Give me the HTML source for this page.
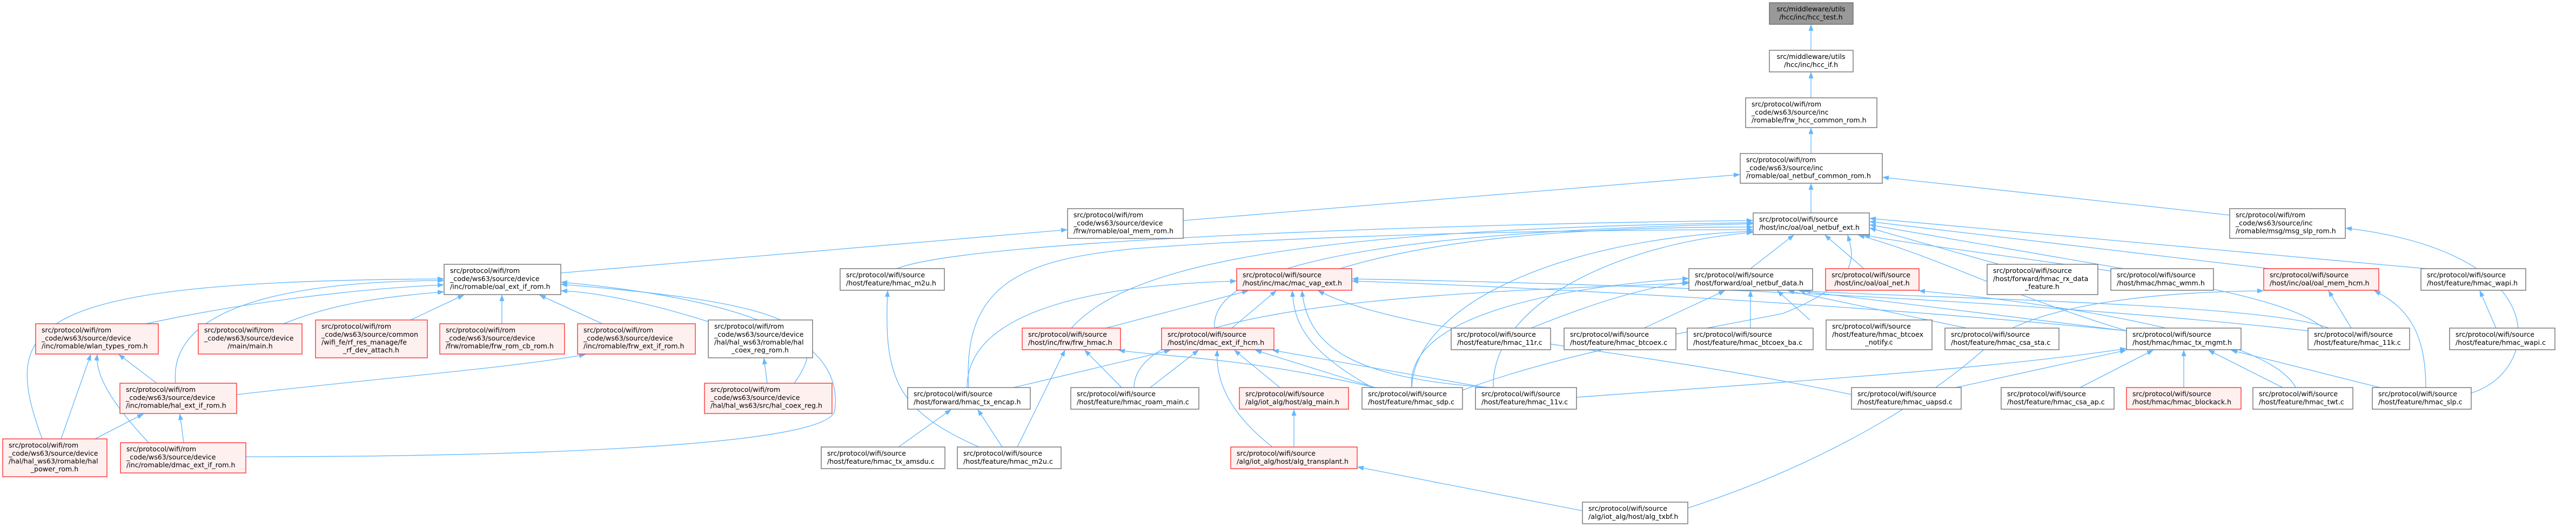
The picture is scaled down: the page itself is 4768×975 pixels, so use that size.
<!DOCTYPE html>
<html><head><meta charset="utf-8"><style>
html,body{margin:0;padding:0;background:#fff;}
svg{display:block}
text{font-family:"DejaVu Sans","Liberation Sans",sans-serif;font-size:12.6px;fill:#000}
.e{fill:none;stroke:#63b8ff;stroke-width:1.3}
.g{fill:#fff;stroke:#666;stroke-width:1.3}
.r{fill:#fff0f0;stroke:#f22;stroke-width:1.3}
.d{fill:#999;stroke:#666;stroke-width:1.3}
</style></head><body>
<svg width="4768" height="975" viewBox="0 0 4768 975" xmlns="http://www.w3.org/2000/svg">
<defs><marker id="a" markerWidth="12" markerHeight="10" refX="11" refY="4.5" orient="auto" markerUnits="userSpaceOnUse"><path d="M0,0 L12,4.5 L0,9 z" fill="#63b8ff"/></marker></defs>
<g class="e" marker-end="url(#a)">
<path d="M3352,93 L3352,46"/>
<path d="M3352,181 L3352,134"/>
<path d="M3352,284 L3352,237"/>
<path d="M3352,394 L3352,340"/>
<path d="M2190,408 L3220,323"/>
<path d="M4127,398 L3485,328"/>
<path d="M1038,505 L1975,425"/>
<path d="M4574,727 C4700,690 4740,470 4342,422"/>
<!-- into F left -->
<path d="M1660,497 C1800,440 2800,412 3244,408"/>
<path d="M1983,607 C2080,500 2350,425 3244,412"/>
<path d="M2248,607 C2240,500 2500,430 3244,414"/>
<path d="M2480,497 C2700,430 3000,420 3244,420"/>
<path d="M1793,717 C1780,520 1900,480 2100,460 C2500,430 3000,425 3244,425"/>
<path d="M2613,717 C2620,560 2900,440 3244,428"/>
<path d="M2764,717 C2760,560 3000,450 3244,430"/>
<path d="M3240,497 L3320,435"/>
<path d="M3450,497 L3378,435"/>
<path d="M3700,489 L3461,422"/>
<path d="M3930,497 L3461,416"/>
<path d="M4200,497 L3461,410"/>
<path d="M4490,497 L3461,404"/>
<path d="M3936,612 C3700,540 3600,480 3440,435"/>
<path d="M4300,607 C4200,520 3700,480 3450,435"/>
<path d="M2707,722 C2900,650 3150,610 3300,580 C3450,520 3430,470 3420,435"/>
<!-- into H -->
<path d="M270,599 C450,560 650,535 821,527"/>
<path d="M525,599 C620,560 720,548 821,540"/>
<path d="M760,592 L858,546"/>
<path d="M929,599 L929,546"/>
<path d="M1115,599 L999,546"/>
<path d="M1311,595 C1200,560 1100,540 1039,538"/>
<path d="M325,709 C310,560 560,520 821,519"/>
<path d="M78,812 C0,600 40,520 821,516"/>
<path d="M455,845 C900,845 1530,830 1545,760 C1560,650 1450,560 1039,522"/>
<path d="M1470,709 C1550,600 1450,560 1039,526"/>
<!-- into Q / AG -->
<path d="M290,709 L220,656"/>
<path d="M113,812 L168,656"/>
<path d="M275,819 C220,760 175,700 180,656"/>
<path d="M176,812 L265,766"/>
<path d="M340,819 L333,766"/>
<path d="M438,730 C700,700 950,680 1083,656"/>
<path d="M1420,709 L1414,663"/>
<path d="M1812,827 C1660,760 1635,700 1643,538"/>
<!-- into J -->
<path d="M2047,607 L2310,538"/>
<path d="M2280,607 L2362,538"/>
<path d="M1790,717 C1790,600 1950,530 2288,520"/>
<path d="M2540,717 C2420,650 2395,600 2392,538"/>
<path d="M2760,717 C2500,700 2420,640 2410,538"/>
<path d="M3427,730 C3000,640 2600,620 2440,538"/>
<path d="M3936,612 C3400,560 2800,530 2503,520"/>
<path d="M4272,612 C3700,550 3000,525 2503,516"/>
<!-- into W -->
<path d="M1883,827 L1971,648"/>
<path d="M2076,717 L2008,648"/>
<path d="M2545,717 C2300,660 2150,660 2071,648"/>
<!-- into X -->
<path d="M1876,717 L2166,648"/>
<path d="M2129,717 L2218,648"/>
<path d="M2355,827 C2270,760 2250,700 2253,648"/>
<path d="M2369,717 L2285,648"/>
<path d="M2545,717 L2324,648"/>
<path d="M2750,717 L2356,648"/>
<path d="M2395,827 L2395,758"/>
<path d="M2929,945 L2513,864"/>
<path d="M1663,827 L1760,758"/>
<path d="M1855,827 L1810,758"/>
<!-- into K -->
<path d="M2834,607 C2950,560 3050,530 3126,522"/>
<path d="M3043,607 L3192,538"/>
<path d="M3240,607 L3240,538"/>
<path d="M3350,592 L3290,538"/>
<path d="M3640,607 L3310,538"/>
<path d="M3935,612 L3330,538"/>
<path d="M4310,607 C4200,560 3500,550 3340,538"/>
<path d="M2613,717 C2600,580 2900,530 3125,515"/>
<path d="M2099,717 C2100,560 2700,540 3125,524"/>
<!-- into AD -->
<path d="M3620,717 L3935,648"/>
<path d="M2918,735 C3400,700 3700,680 3935,645"/>
<path d="M3850,717 L3985,648"/>
<path d="M4042,717 L4042,648"/>
<path d="M4225,717 L4088,648"/>
<path d="M4405,717 L4130,648"/>
<!-- others -->
<path d="M4352,607 L4310,538"/>
<path d="M4490,717 C4490,620 4460,570 4395,538"/>
<path d="M3124,940 C3400,850 3600,720 3700,620 C3800,560 4000,540 4189,538"/>
<path d="M4249,717 C4200,620 3800,560 3552,538"/>
<path d="M4620,607 L4590,538"/>
</g>
<g>
<rect class="d" x="3275" y="5" width="155" height="40"/>
<text x="3352" y="21" text-anchor="middle">src/middleware/utils</text><text x="3352" y="36" text-anchor="middle">/hcc/inc/hcc_test.h</text>
<rect class="g" x="3275" y="93" width="155" height="40"/>
<text x="3352" y="109" text-anchor="middle">src/middleware/utils</text><text x="3352" y="124" text-anchor="middle">/hcc/inc/hcc_if.h</text>
<rect class="g" x="3231" y="181" width="243" height="55"/>
<text x="3242" y="197">src/protocol/wifi/rom</text><text x="3242" y="212">_code/ws63/source/inc</text><text x="3242" y="226.5">/romable/frw_hcc_common_rom.h</text>
<rect class="g" x="3221" y="284" width="263" height="55"/>
<text x="3232" y="300">src/protocol/wifi/rom</text><text x="3232" y="315">_code/ws63/source/inc</text><text x="3232" y="329.5">/romable/oal_netbuf_common_rom.h</text>
<rect class="g" x="1976" y="386" width="214" height="55"/>
<text x="1987" y="402">src/protocol/wifi/rom</text><text x="1987" y="417">_code/ws63/source/device</text><text x="1987" y="431.5">/frw/romable/oal_mem_rom.h</text>
<rect class="g" x="3245" y="394" width="215" height="40"/>
<text x="3256" y="410">src/protocol/wifi/source</text><text x="3256" y="425">/host/inc/oal/oal_netbuf_ext.h</text>
<rect class="g" x="4127" y="386" width="214" height="55"/>
<text x="4138" y="402">src/protocol/wifi/rom</text><text x="4138" y="417">_code/ws63/source/inc</text><text x="4138" y="431.5">/romable/msg/msg_slp_rom.h</text>
<rect class="g" x="822" y="489" width="216" height="56"/>
<text x="833" y="505">src/protocol/wifi/rom</text><text x="833" y="520">_code/ws63/source/device</text><text x="833" y="534.5">/inc/romable/oal_ext_if_rom.h</text>
<rect class="g" x="1555" y="497" width="193" height="40"/>
<text x="1566" y="513">src/protocol/wifi/source</text><text x="1566" y="528">/host/feature/hmac_m2u.h</text>
<rect class="r" x="2289" y="497" width="213" height="40"/>
<text x="2300" y="513">src/protocol/wifi/source</text><text x="2300" y="528">/host/inc/mac/mac_vap_ext.h</text>
<rect class="g" x="3126" y="497" width="229" height="40"/>
<text x="3137" y="513">src/protocol/wifi/source</text><text x="3137" y="528">/host/forward/oal_netbuf_data.h</text>
<rect class="r" x="3379" y="497" width="173" height="40"/>
<text x="3390" y="513">src/protocol/wifi/source</text><text x="3465" y="528" text-anchor="middle">/host/inc/oal/oal_net.h</text>
<rect class="g" x="3678" y="489" width="205" height="56"/>
<text x="3689" y="505">src/protocol/wifi/source</text><text x="3689" y="520">/host/forward/hmac_rx_data</text><text x="3780" y="534.5" text-anchor="middle">_feature.h</text>
<rect class="g" x="3907" y="497" width="190" height="40"/>
<text x="3918" y="513">src/protocol/wifi/source</text><text x="3918" y="528">/host/hmac/hmac_wmm.h</text>
<rect class="r" x="4190" y="497" width="213" height="40"/>
<text x="4201" y="513">src/protocol/wifi/source</text><text x="4201" y="528">/host/inc/oal/oal_mem_hcm.h</text>
<rect class="g" x="4481" y="497" width="194" height="40"/>
<text x="4492" y="513">src/protocol/wifi/source</text><text x="4492" y="528">/host/feature/hmac_wapi.h</text>

<rect class="r" x="66" y="599" width="227" height="56"/>
<text x="77" y="615">src/protocol/wifi/rom</text><text x="77" y="630">_code/ws63/source/device</text><text x="77" y="644.5">/inc/romable/wlan_types_rom.h</text>
<rect class="r" x="367" y="599" width="192" height="56"/>
<text x="378" y="615">src/protocol/wifi/rom</text><text x="378" y="630">_code/ws63/source/device</text><text x="463" y="644.5" text-anchor="middle">/main/main.h</text>
<rect class="r" x="584" y="592" width="207" height="70"/>
<text x="595" y="608">src/protocol/wifi/rom</text><text x="595" y="623">_code/ws63/source/common</text><text x="595" y="637.5">/wifi_fe/rf_res_manage/fe</text><text x="687" y="652" text-anchor="middle">_rf_dev_attach.h</text>
<rect class="r" x="814" y="599" width="231" height="56"/>
<text x="825" y="615">src/protocol/wifi/rom</text><text x="825" y="630">_code/ws63/source/device</text><text x="825" y="644.5">/frw/romable/frw_rom_cb_rom.h</text>
<rect class="r" x="1069" y="599" width="218" height="56"/>
<text x="1080" y="615">src/protocol/wifi/rom</text><text x="1080" y="630">_code/ws63/source/device</text><text x="1080" y="644.5">/inc/romable/frw_ext_if_rom.h</text>
<rect class="g" x="1311" y="592" width="193" height="70"/>
<text x="1322" y="608">src/protocol/wifi/rom</text><text x="1322" y="623">_code/ws63/source/device</text><text x="1322" y="637.5">/hal/hal_ws63/romable/hal</text><text x="1407" y="652" text-anchor="middle">_coex_reg_rom.h</text>
<rect class="r" x="1892" y="607" width="182" height="40"/>
<text x="1903" y="623">src/protocol/wifi/source</text><text x="1903" y="638">/host/inc/frw/frw_hmac.h</text>
<rect class="r" x="2150" y="607" width="208" height="40"/>
<text x="2161" y="623">src/protocol/wifi/source</text><text x="2161" y="638">/host/inc/dmac_ext_if_hcm.h</text>
<rect class="g" x="2686" y="607" width="184" height="40"/>
<text x="2697" y="623">src/protocol/wifi/source</text><text x="2697" y="638">/host/feature/hmac_11r.c</text>
<rect class="g" x="2895" y="607" width="207" height="40"/>
<text x="2906" y="623">src/protocol/wifi/source</text><text x="2906" y="638">/host/feature/hmac_btcoex.c</text>
<rect class="g" x="3123" y="607" width="233" height="40"/>
<text x="3134" y="623">src/protocol/wifi/source</text><text x="3134" y="638">/host/feature/hmac_btcoex_ba.c</text>
<rect class="g" x="3380" y="592" width="196" height="55"/>
<text x="3391" y="608">src/protocol/wifi/source</text><text x="3391" y="623">/host/feature/hmac_btcoex</text><text x="3478" y="637.5" text-anchor="middle">_notify.c</text>
<rect class="g" x="3600" y="607" width="211" height="40"/>
<text x="3611" y="623">src/protocol/wifi/source</text><text x="3611" y="638">/host/feature/hmac_csa_sta.c</text>
<rect class="g" x="3936" y="607" width="212" height="40"/>
<text x="3947" y="623">src/protocol/wifi/source</text><text x="3947" y="638">/host/hmac/hmac_tx_mgmt.h</text>
<rect class="g" x="4272" y="607" width="188" height="40"/>
<text x="4283" y="623">src/protocol/wifi/source</text><text x="4283" y="638">/host/feature/hmac_11k.c</text>
<rect class="g" x="4534" y="607" width="195" height="40"/>
<text x="4545" y="623">src/protocol/wifi/source</text><text x="4545" y="638">/host/feature/hmac_wapi.c</text>

<rect class="r" x="222" y="709" width="216" height="56"/>
<text x="233" y="725">src/protocol/wifi/rom</text><text x="233" y="740">_code/ws63/source/device</text><text x="233" y="754.5">/inc/romable/hal_ext_if_rom.h</text>
<rect class="r" x="1304" y="709" width="236" height="56"/>
<text x="1315" y="725">src/protocol/wifi/rom</text><text x="1315" y="740">_code/ws63/source/device</text><text x="1315" y="754.5">/hal/hal_ws63/src/hal_coex_reg.h</text>
<rect class="g" x="1680" y="717" width="227" height="40"/>
<text x="1691" y="733">src/protocol/wifi/source</text><text x="1691" y="748">/host/forward/hmac_tx_encap.h</text>
<rect class="g" x="1982" y="717" width="237" height="40"/>
<text x="1993" y="733">src/protocol/wifi/source</text><text x="1993" y="748">/host/feature/hmac_roam_main.c</text>
<rect class="r" x="2294" y="717" width="202" height="40"/>
<text x="2305" y="733">src/protocol/wifi/source</text><text x="2305" y="748">/alg/iot_alg/host/alg_main.h</text>
<rect class="g" x="2521" y="717" width="186" height="40"/>
<text x="2532" y="733">src/protocol/wifi/source</text><text x="2532" y="748">/host/feature/hmac_sdp.c</text>
<rect class="g" x="2731" y="717" width="187" height="40"/>
<text x="2742" y="733">src/protocol/wifi/source</text><text x="2742" y="748">/host/feature/hmac_11v.c</text>
<rect class="g" x="3427" y="717" width="203" height="40"/>
<text x="3438" y="733">src/protocol/wifi/source</text><text x="3438" y="748">/host/feature/hmac_uapsd.c</text>
<rect class="g" x="3704" y="717" width="209" height="40"/>
<text x="3715" y="733">src/protocol/wifi/source</text><text x="3715" y="748">/host/feature/hmac_csa_ap.c</text>
<rect class="r" x="3936" y="717" width="212" height="40"/>
<text x="3947" y="733">src/protocol/wifi/source</text><text x="3947" y="748">/host/hmac/hmac_blockack.h</text>
<rect class="g" x="4170" y="717" width="185" height="40"/>
<text x="4181" y="733">src/protocol/wifi/source</text><text x="4181" y="748">/host/feature/hmac_twt.c</text>
<rect class="g" x="4391" y="717" width="183" height="40"/>
<text x="4402" y="733">src/protocol/wifi/source</text><text x="4402" y="748">/host/feature/hmac_slp.c</text>

<rect class="r" x="5" y="812" width="193" height="70"/>
<text x="16" y="828">src/protocol/wifi/rom</text><text x="16" y="843">_code/ws63/source/device</text><text x="16" y="857.5">/hal/hal_ws63/romable/hal</text><text x="101" y="872" text-anchor="middle">_power_rom.h</text>
<rect class="r" x="223" y="819" width="232" height="56"/>
<text x="234" y="835">src/protocol/wifi/rom</text><text x="234" y="850">_code/ws63/source/device</text><text x="234" y="864.5">/inc/romable/dmac_ext_if_rom.h</text>
<rect class="g" x="1520" y="827" width="229" height="40"/>
<text x="1531" y="843">src/protocol/wifi/source</text><text x="1531" y="858">/host/feature/hmac_tx_amsdu.c</text>
<rect class="g" x="1772" y="827" width="192" height="40"/>
<text x="1783" y="843">src/protocol/wifi/source</text><text x="1783" y="858">/host/feature/hmac_m2u.c</text>
<rect class="r" x="2278" y="827" width="234" height="40"/>
<text x="2289" y="843">src/protocol/wifi/source</text><text x="2289" y="858">/alg/iot_alg/host/alg_transplant.h</text>
<rect class="g" x="2929" y="929" width="195" height="40"/>
<text x="2940" y="945">src/protocol/wifi/source</text><text x="2940" y="960">/alg/iot_alg/host/alg_txbf.h</text>
</g>
</svg>
</body></html>
